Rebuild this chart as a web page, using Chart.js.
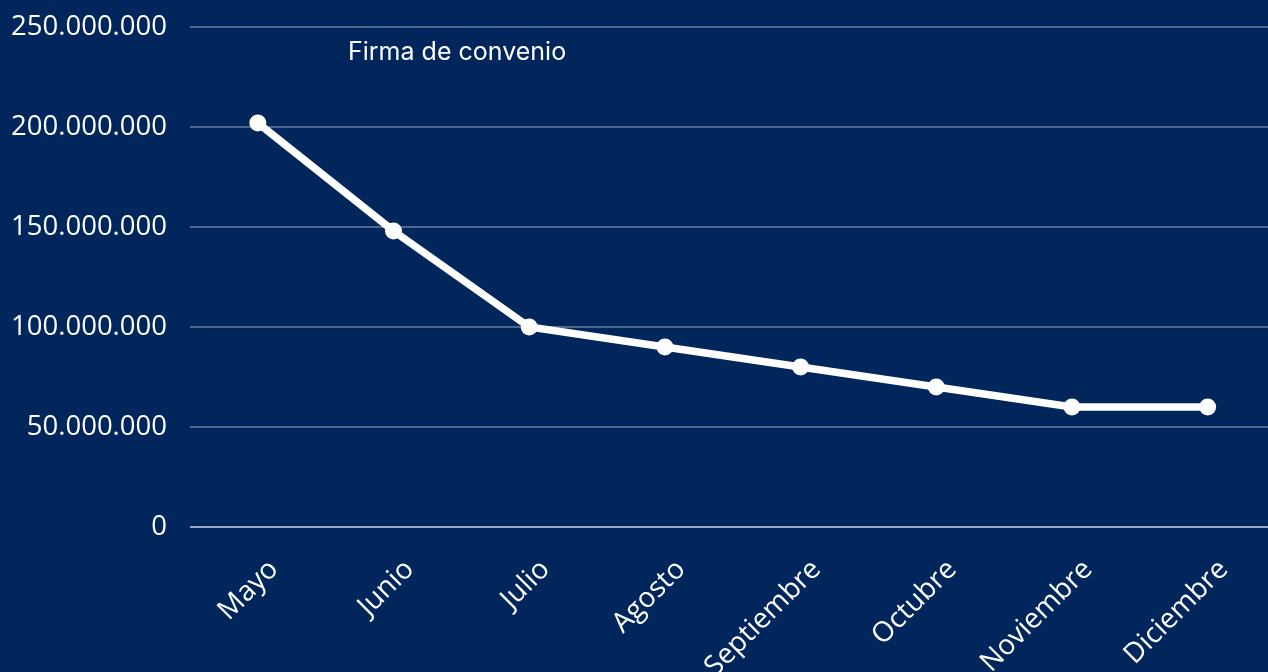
<!DOCTYPE html>
<html>
<head>
<meta charset="utf-8">
<script src="https://cdn.jsdelivr.net/npm/chart.js@4/dist/chart.umd.min.js"></script>
<style>
  html, body { margin: 0; padding: 0; background: #00265C; overflow: hidden; width: 1268px; height: 672px; }
  #wrap { position: relative; width: 1284px; height: 672px; }
  #title { position: absolute; left: 348px; top: 36px; color: #ffffff; font-family: "Inter", sans-serif; font-size: 25px; white-space: nowrap; }
</style>
</head>
<body>
<div id="wrap">
  <canvas id="c"></canvas>
  <div id="title">Firma de convenio</div>
</div>
<script>
const categories = ["Mayo", "Junio", "Julio", "Agosto", "Septiembre", "Octubre", "Noviembre", "Diciembre"];
const seriesName = "Firma de convenio";
const seriesValues = [202000000, 148000000, 100000000, 90000000, 80000000, 70000000, 60000000, 60000000];
const yTicks = [0, 50000000, 100000000, 150000000, 200000000, 250000000];

function fmt(v) {
  return String(v).replace(/\B(?=(\d{3})+(?!\d))/g, ".");
}

new Chart(document.getElementById('c'), {
  type: 'line',
  data: {
    labels: categories,
    datasets: [{
      label: seriesName,
      data: seriesValues,
      borderColor: '#ffffff',
      backgroundColor: '#ffffff',
      borderWidth: 7.5,
      pointRadius: 8.5,
      pointBackgroundColor: '#ffffff',
      pointBorderWidth: 0,
      tension: 0
    }]
  },
  options: {
    responsive: true,
    maintainAspectRatio: false,
    animation: false,
    layout: { padding: { top: 27, right: 0, left: 0, bottom: 0 } },
    plugins: { legend: { display: false }, title: { display: false }, tooltip: { enabled: false } },
    scales: {
      x: {
        offset: true,
        grid: { display: false, drawTicks: false },
        border: { display: false },
        ticks: {
          color: '#ffffff',
          font: { family: 'Open Sans', size: 28 },
          minRotation: 45,
          maxRotation: 45,
          autoSkip: false,
          padding: 26,
          labelOffset: 16
        },
        afterFit: (s) => { s.height = 145; s.paddingTop = 0; s.paddingBottom = 0; s.paddingLeft = 0; s.paddingRight = 0; }
      },
      y: {
        min: yTicks[0],
        max: yTicks[yTicks.length - 1],
        afterBuildTicks: (s) => { s.ticks = yTicks.map(v => ({ value: v })); },
        grid: {
          drawTicks: false,
          lineWidth: 2,
          color: (ctx) => ctx.tick && ctx.tick.value === 0 ? 'rgba(255,255,255,0.6)' : 'rgba(255,255,255,0.3)'
        },
        border: { display: false },
        ticks: {
          color: '#ffffff',
          font: { family: 'Open Sans', size: 27.5, lineHeight: 1 },
          padding: 23,
          callback: (v) => fmt(v)
        },
        afterFit: (s) => { s.width = 190; s.paddingTop = 0; s.paddingBottom = 0; }
      }
    }
  }
});
</script>
</body>
</html>
